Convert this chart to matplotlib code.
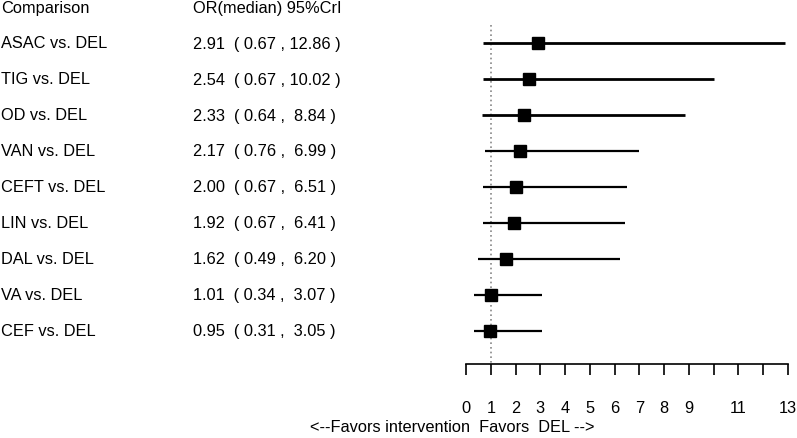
import matplotlib
matplotlib.use("Agg")
import matplotlib.pyplot as plt
import matplotlib.transforms as mtransforms

plt.rcParams['font.family'] = ['Liberation Sans', 'DejaVu Sans']
plt.rcParams['font.size'] = 11.8

comparisons = ["ASAC vs. DEL", "TIG vs. DEL", "OD vs. DEL", "VAN vs. DEL",
               "CEFT vs. DEL", "LIN vs. DEL", "DAL vs. DEL", "VA vs. DEL",
               "CEF vs. DEL"]
median = [2.91, 2.54, 2.33, 2.17, 2.00, 1.92, 1.62, 1.01, 0.95]
lower = [0.67, 0.67, 0.64, 0.76, 0.67, 0.67, 0.49, 0.34, 0.31]
upper = [12.86, 10.02, 8.84, 6.99, 6.51, 6.41, 6.20, 3.07, 3.05]
line_w = [2.0, 2.0, 2.0, 1.6, 1.6, 1.6, 1.6, 1.6, 1.6]

xticks = list(range(0, 14))
xticklabels = [str(t) if t not in (10, 12) else "" for t in xticks]


def main():
    W, H = 797, 439
    fig = plt.figure(figsize=(W / 100, H / 100), dpi=100)
    ax = fig.add_axes([466 / W, 1 - 365 / H, (788 - 466) / W, 365 / H])

    # rows at pixel 44 + 36*i
    ax.set_ylim((365 - 44) / 36, -44 / 36)
    ax.set_xlim(0, 13)

    ax.vlines(1, -0.5, (365 - 44) / 36, colors="#888888", linestyles=(0, (1.0, 1.8)), lw=1.2)

    for i in range(len(comparisons)):
        ax.hlines(i, lower[i], upper[i], colors="black", lw=line_w[i])
        ax.plot(median[i], i, marker="s", color="black", markersize=8.5)

    for s in ["top", "right", "left"]:
        ax.spines[s].set_visible(False)
    ax.spines["bottom"].set_linewidth(1.2)
    ax.set_yticks([])
    ax.set_xticks(xticks)
    ax.set_xticklabels(xticklabels)
    ax.tick_params(axis="x", direction="out", length=8, width=1.2, pad=18, labelsize=11.8)

    trans = mtransforms.blended_transform_factory(fig.transFigure, ax.transData)
    ax.text(1 / W, -1, "Comparison", transform=trans, va="center", ha="left")
    ax.text(193 / W, -1, "OR(median) 95%CrI", transform=trans, va="center", ha="left")
    for i, name in enumerate(comparisons):
        ax.text(1 / W, i, name, transform=trans, va="center", ha="left")
        label = "%.2f  ( %.2f , %5.2f )" % (median[i], lower[i], upper[i])
        if upper[i] < 10:
            label = "%.2f  ( %.2f ,  %.2f )" % (median[i], lower[i], upper[i])
        ax.text(193 / W, i, label, transform=trans, va="center", ha="left")

    fig.text(452 / W, 1 - 428 / H, "<--Favors intervention  Favors  DEL -->",
             ha="center", va="center")

    fig.savefig("out.png", dpi=100)


if __name__ == "__main__":
    main()
